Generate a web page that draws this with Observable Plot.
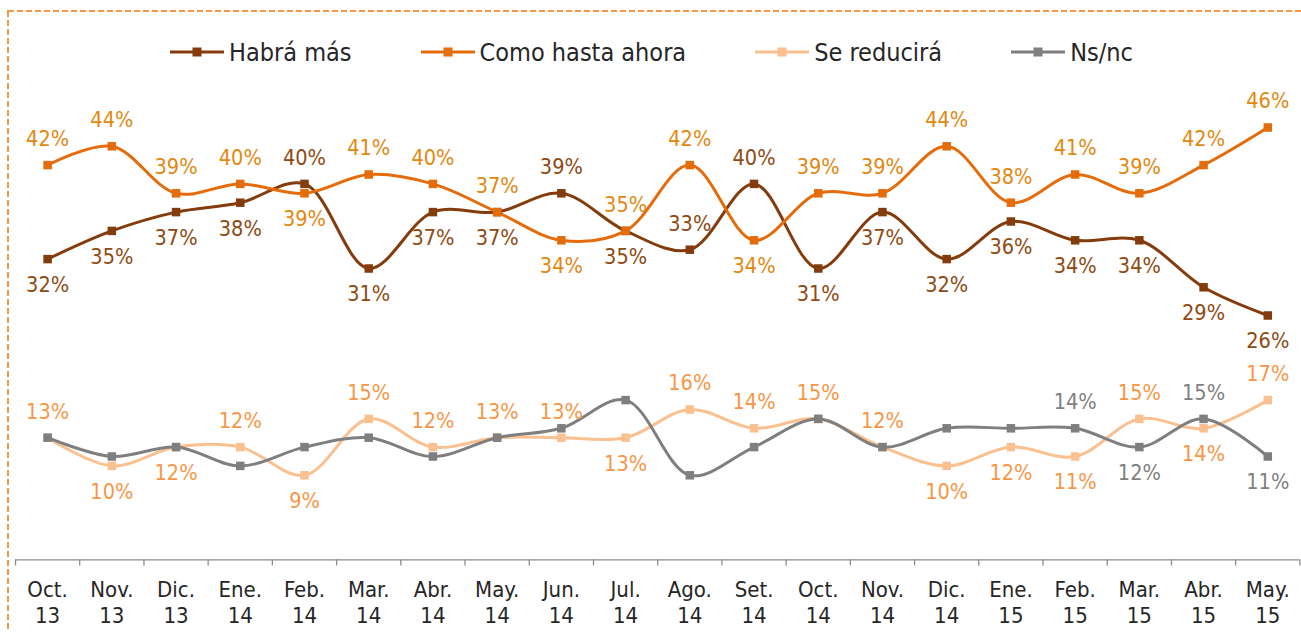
<!DOCTYPE html>
<html>
<head>
<meta charset="utf-8">
<script src="https://cdn.jsdelivr.net/npm/d3@7"></script>
<script src="https://cdn.jsdelivr.net/npm/@observablehq/plot@0.6"></script>
<style>
  html, body { margin: 0; padding: 0; background: #fff; }
  #wrap { position: relative; width: 1301px; height: 632px; overflow: hidden; background: #fff; }
  #legend { position: absolute; left: 170px; top: 33px; height: 38px; display: flex; align-items: center; gap: 69px;
            font-family: "DejaVu Sans Condensed", "DejaVu Sans", sans-serif; font-size: 25px; color: #262626; white-space: nowrap; }
  .item { display: flex; align-items: center; gap: 5px; }
  #plot { position: absolute; left: 0; top: 0; }
  #border { position: absolute; left: 0; top: 0; pointer-events: none; }
</style>
</head>
<body>
<div id="wrap">
  <div id="plot"></div>
  <div id="legend"></div>
  <svg id="border" width="1301" height="632"><rect x="8" y="11" width="1400" height="700" fill="none" stroke="#F79646" stroke-width="2" stroke-dasharray="6 3"></rect></svg>
</div>
<script>
// ---- data ----
const categories = ["Oct.\n13","Nov.\n13","Dic.\n13","Ene.\n14","Feb.\n14","Mar.\n14","Abr.\n14","May.\n14","Jun.\n14","Jul.\n14",
                    "Ago.\n14","Set.\n14","Oct.\n14","Nov.\n14","Dic.\n14","Ene.\n15","Feb.\n15","Mar.\n15","Abr.\n15","May.\n15"];
const seriesNames = ["Habrá más", "Como hasta ahora", "Se reducirá", "Ns/nc"];
const habraMas       = [32,35,37,38,40,31,37,37,39,35,33,40,31,37,32,36,34,34,29,26];
const comoHastaAhora = [42,44,39,40,39,41,40,37,34,35,42,34,39,39,44,38,41,39,42,46];
const seReducira     = [13,10,12,12,9,15,12,13,13,13,16,14,15,12,10,12,11,15,14,17];
const nsNc           = [13,11,12,10,12,13,11,13,14,17,9,12,15,12,14,14,14,12,15,11];

// which side of the point each data label sits on: "a" above, "b" below, "" none
const habraSides = ["b","b","b","b","a","b","b","b","a","b","a","a","b","b","b","b","b","b","b","b"];
const comoSides  = ["a","a","a","a","b","a","a","a","b","a","a","b","a","a","a","a","a","a","a","a"];
const seSides    = ["a","b","b","a","b","a","a","a","a","b","a","a","a","a","b","b","b","a","b","a"];
const nsSides    = ["","","","","","","","","","","","","","","","","a","b","a","b"];

// ---- styles ----
const lineColors  = ["#843C0C", "#E46C0A", "#FAC090", "#7F7F7F"];
const labelColors = ["#8E4A12", "#E2880F", "#F79646", "#7F7F7F"];

const seriesValues = [habraMas, comoHastaAhora, seReducira, nsNc];
const seriesSides = [habraSides, comoSides, seSides, nsSides];

const rows = seriesValues.flatMap((vals, k) => vals.map((v, i) => ({i, value: v, k, series: seriesNames[k], side: seriesSides[k][i]})));

const labelFont = "'Liberation Sans Narrow', 'Arial Narrow', 'DejaVu Sans Condensed', sans-serif";
const axisFont = "'DejaVu Sans Condensed', 'DejaVu Sans', sans-serif";

const marks = [
  Plot.ruleY([0], {stroke: "#8C8C8C", strokeWidth: 1.3}),
  Plot.axisX({ticks: d3.range(-0.5, 20, 1), tickSize: 6, tickFormat: () => "", stroke: "#8C8C8C", strokeWidth: 1.3, label: null}),
  Plot.axisX({ticks: d3.range(0, 20), tickSize: 0, tickPadding: 19, tickFormat: i => categories[i], label: null,
              fontSize: 22, lineHeight: 1.18, fill: "#262626", fontFamily: axisFont})
];

seriesNames.forEach((name, k) => {
  const data = rows.filter(d => d.k === k);
  marks.push(Plot.line(data, {x: "i", y: "value", stroke: lineColors[k], strokeWidth: 3, curve: "catmull-rom"}));
  marks.push(Plot.dot(data, {x: "i", y: "value", symbol: "square", r: 4.8, fill: lineColors[k], stroke: "none"}));
});
seriesNames.forEach((name, k) => {
  const data = rows.filter(d => d.k === k);
  marks.push(Plot.text(data.filter(d => d.side === "a"), {x: "i", y: "value", text: d => d.value + "%", dy: -26,
    fill: labelColors[k], fontSize: 21.5, fontFamily: labelFont}));
  marks.push(Plot.text(data.filter(d => d.side === "b"), {x: "i", y: "value", text: d => d.value + "%", dy: 26,
    fill: labelColors[k], fontSize: 21.5, fontFamily: labelFont}));
});

const chart = Plot.plot({
  width: 1301,
  height: 632,
  marginLeft: 15,
  marginRight: 1.6,
  marginTop: 89.4,
  marginBottom: 72.6,
  x: {type: "linear", domain: [-0.5, 19.5], axis: null, label: null},
  y: {domain: [0, 50], axis: null, label: null},
  style: {background: "transparent", fontFamily: axisFont},
  marks
});
document.getElementById("plot").appendChild(chart);

// ---- legend ----
const legend = document.getElementById("legend");
seriesNames.forEach((name, k) => {
  const item = document.createElement("div");
  item.className = "item";
  item.innerHTML = `<svg width="54" height="12"><line x1="0" y1="6" x2="54" y2="6" stroke="${lineColors[k]}" stroke-width="3"/>` +
                   `<rect x="22.5" y="1.5" width="9" height="9" fill="${lineColors[k]}"/></svg><span>${name}</span>`;
  legend.appendChild(item);
});
</script>
</body>
</html>
